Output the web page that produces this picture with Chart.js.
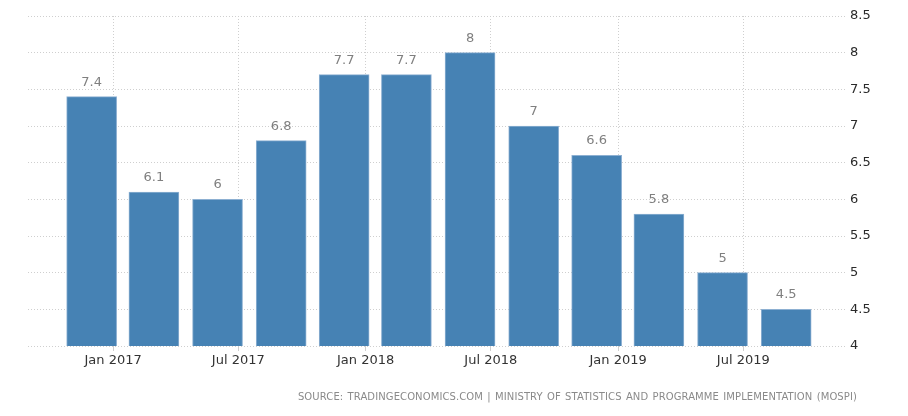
<!DOCTYPE html>
<html>
<head>
<meta charset="utf-8">
<script src="https://cdn.jsdelivr.net/npm/chart.js@4/dist/chart.umd.min.js"></script>
<style>
  html,body{margin:0;padding:0;background:#fff;}
  #wrap{position:relative;width:908px;height:416px;overflow:hidden;}
  #c{position:absolute;left:0;top:0;}
  #src{position:absolute;right:51px;top:391px;font-family:"DejaVu Sans",sans-serif;font-size:10px;color:#8a8a8a;letter-spacing:0.1px;word-spacing:1px;white-space:nowrap;}
</style>
</head>
<body>
<div id="wrap">
  <canvas id="c" width="908" height="416"></canvas>
  <div id="src">SOURCE: TRADINGECONOMICS.COM | MINISTRY OF STATISTICS AND PROGRAMME IMPLEMENTATION (MOSPI)</div>
</div>
<script>
// Data
const periods = ['2016-12-01','2017-03-01','2017-06-01','2017-09-01','2017-12-01','2018-03-01','2018-06-01','2018-09-01','2018-12-01','2019-03-01','2019-06-01','2019-09-01'];
const gdpGrowth = [7.4, 6.1, 6, 6.8, 7.7, 7.7, 8, 7, 6.6, 5.8, 5, 4.5];
const tickDates = ['2017-01-01','2017-07-01','2018-01-01','2018-07-01','2019-01-01','2019-07-01'];
const tickLabels = ['Jan 2017','Jul 2017','Jan 2018','Jul 2018','Jan 2019','Jul 2019'];
const yTicks = [4, 4.5, 5, 5.5, 6, 6.5, 7, 7.5, 8, 8.5];

const DAY = 86400000;
const origin = Date.UTC(2017,0,1);
const toDay = s => { const [y,m,d] = s.split('-').map(Number); return Math.round((Date.UTC(y,m-1,d)-origin)/DAY); };
const points = periods.map((p,i) => ({x: toDay(p), y: gdpGrowth[i]}));
const tickVals = tickDates.map(toDay);

const valueLabels = {
  id: 'valueLabels',
  afterDatasetsDraw(chart) {
    const ctx = chart.ctx;
    const meta = chart.getDatasetMeta(0);
    ctx.save();
    ctx.font = '13px "DejaVu Sans", sans-serif';
    ctx.fillStyle = '#7f7f7f';
    ctx.textAlign = 'center';
    ctx.textBaseline = 'alphabetic';
    meta.data.forEach((bar, i) => {
      ctx.fillText(String(gdpGrowth[i]), bar.x, bar.y - 11);
    });
    ctx.restore();
  }
};

new Chart(document.getElementById('c'), {
  type: 'bar',
  data: {
    datasets: [{
      data: points,
      backgroundColor: '#4682b4',
      borderColor: '#8db0d2',
      borderWidth: 1,
      barThickness: 50
    }]
  },
  options: {
    responsive: false,
    animation: false,
    layout: { padding: { left: 28, right: 0, top: 16, bottom: 0 } },
    plugins: { legend: { display: false }, tooltip: { enabled: false } },
    scales: {
      x: {
        type: 'linear',
        offset: false,
        min: -123,
        max: 1058,
        afterBuildTicks(scale) { scale.ticks = tickVals.map(v => ({ value: v })); },
        afterFit(scale) { scale.height = 70; },
        ticks: {
          autoSkip: false,
          maxRotation: 0,
          padding: 2,
          color: '#333333',
          font: { family: '"DejaVu Sans", sans-serif', size: 13 },
          callback: (v) => { const i = tickVals.indexOf(v); return i >= 0 ? tickLabels[i] : ''; }
        },
        grid: {
          offset: false,
          color: '#cfcfcf',
          lineWidth: 1,
          tickLength: 5,
          drawOnChartArea: true
        },
        border: { display: false, dash: [1, 2] }
      },
      y: {
        position: 'right',
        min: 4,
        max: 8.5,
        afterBuildTicks(scale) { scale.ticks = yTicks.map(v => ({ value: v })); },
        afterFit(scale) { scale.width = 63; },
        ticks: {
          padding: 5,
          color: '#2a2a2a',
          font: { family: '"DejaVu Sans", sans-serif', size: 13 },
          callback: v => String(v)
        },
        grid: {
          color: '#cfcfcf',
          lineWidth: 1,
          drawTicks: false
        },
        border: { display: false, dash: [1, 2] }
      }
    }
  },
  plugins: [valueLabels]
});
</script>
</body>
</html>
